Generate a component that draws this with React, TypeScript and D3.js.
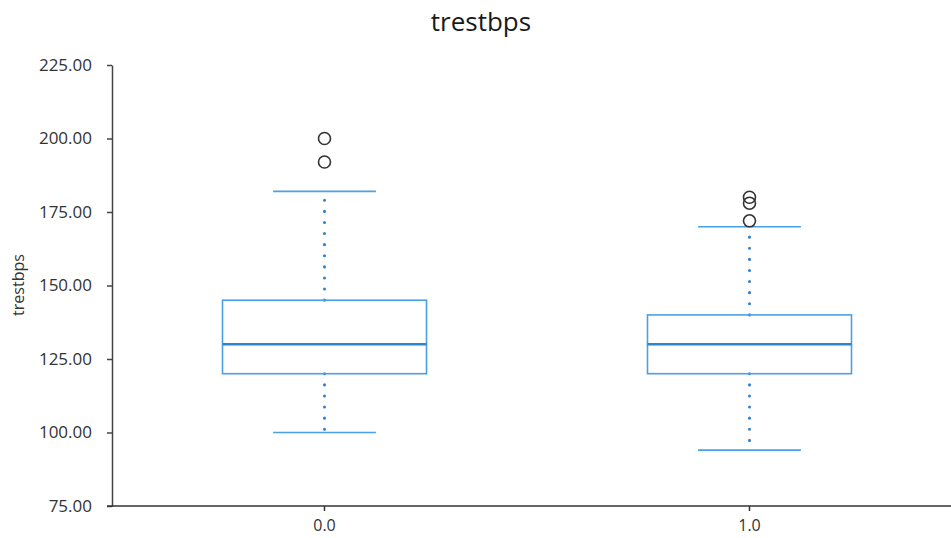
import React, {useEffect, useRef} from 'react'
import * as d3 from 'd3'

const width = 951
const height = 538

const categories = ['0.0', '1.0']
const q1 = [120, 120]
const medians = [130, 130]
const q3 = [145, 140]
const whiskerLow = [100, 94]
const whiskerHigh = [182, 170]
const outliers = [
  [200, 192],
  [180, 178, 172],
]
const yTicks = [75, 100, 125, 150, 175, 200, 225]

const font = '"Open Sans", "Noto Sans", sans-serif'

const App = () => {
  const chartRef = useRef<SVGSVGElement>(null)

  useEffect(() => {
    const svg = d3.select(chartRef.current)
    svg.selectAll('*').remove()

    const left = 112
    const bottom = 506

    const y = d3.scaleLinear().domain([75, 225]).range([bottom, 65])
    const x = d3.scaleBand().domain(categories).range([left, 962])
    const boxW = x.bandwidth() * 0.48
    const capHalf = x.bandwidth() * 0.121

    svg
      .append('text')
      .attr('x', 481)
      .attr('y', 31)
      .attr('text-anchor', 'middle')
      .style('font-family', font)
      .style('font-size', '26px')
      .attr('fill', '#1a1a1a')
      .text('trestbps')

    // y axis
    const yAxis = svg
      .append('g')
      .attr('transform', `translate(${left},0)`)
      .call(d3.axisLeft(y).tickValues(yTicks).tickFormat(d3.format('.2f')).tickSize(5).tickSizeOuter(0))
    yAxis.select('.domain').attr('stroke', '#444').attr('stroke-width', 1.5)
    yAxis.selectAll('.tick line').attr('stroke', '#444').attr('stroke-width', 1.5)
    yAxis
      .selectAll('.tick text')
      .attr('x', -20)
      .attr('fill', '#333')
      .style('font-family', font)
      .style('font-size', '17px')

    svg
      .append('text')
      .attr('transform', `translate(24,285) rotate(-90)`)
      .attr('text-anchor', 'middle')
      .style('font-family', font)
      .style('font-size', '16px')
      .attr('fill', '#333')
      .text('trestbps')

    // x axis
    svg
      .append('line')
      .attr('x1', left - 5)
      .attr('x2', width)
      .attr('y1', bottom)
      .attr('y2', bottom)
      .attr('stroke', '#333')
      .attr('stroke-width', 1.5)
    const xg = svg.append('g')
    categories.forEach(c => {
      const cx = x(c)! + x.bandwidth() / 2
      xg.append('line')
        .attr('x1', cx)
        .attr('x2', cx)
        .attr('y1', bottom)
        .attr('y2', bottom + 5)
        .attr('stroke', '#333')
        .attr('stroke-width', 1.5)
      xg.append('text')
        .attr('x', cx)
        .attr('y', bottom + 25)
        .attr('text-anchor', 'middle')
        .attr('fill', '#333')
        .style('font-family', font)
        .style('font-size', '16px')
        .text(c)
    })

    const boxColor = '#4aa0e4'
    const dotColor = '#2f80cc'

    categories.forEach((c, i) => {
      const cx = x(c)! + x.bandwidth() / 2
      const g = svg.append('g')

      // dotted whiskers
      ;[
        [q3[i], whiskerHigh[i]],
        [q1[i], whiskerLow[i]],
      ].forEach(([a, b]) => {
        g.append('line')
          .attr('x1', cx)
          .attr('x2', cx)
          .attr('y1', y(a))
          .attr('y2', y(b))
          .attr('stroke', dotColor)
          .attr('stroke-width', 3)
          .attr('stroke-linecap', 'round')
          .attr('stroke-dasharray', '0.1 11')
      })

      // caps
      ;[whiskerLow[i], whiskerHigh[i]].forEach(v => {
        g.append('line')
          .attr('x1', cx - capHalf)
          .attr('x2', cx + capHalf)
          .attr('y1', y(v))
          .attr('y2', y(v))
          .attr('stroke', boxColor)
          .attr('stroke-width', 1.6)
      })

      g.append('rect')
        .attr('x', cx - boxW / 2)
        .attr('y', y(q3[i]))
        .attr('width', boxW)
        .attr('height', y(q1[i]) - y(q3[i]))
        .attr('fill', 'none')
        .attr('stroke', boxColor)
        .attr('stroke-width', 1.6)

      g.append('line')
        .attr('x1', cx - boxW / 2)
        .attr('x2', cx + boxW / 2)
        .attr('y1', y(medians[i]))
        .attr('y2', y(medians[i]))
        .attr('stroke', '#2f86d0')
        .attr('stroke-width', 2.4)

      g.selectAll('circle.out')
        .data(outliers[i])
        .enter()
        .append('circle')
        .attr('cx', cx)
        .attr('cy', d => y(d))
        .attr('r', 6)
        .attr('fill', 'none')
        .attr('stroke', '#333')
        .attr('stroke-width', 1.6)
    })
  }, [])

  return (
    <svg
      ref={chartRef}
      width={width}
      height={height}
      style={{position: 'absolute', left: 0, top: 0, background: '#fff'}}
    ></svg>
  )
}

export default App
